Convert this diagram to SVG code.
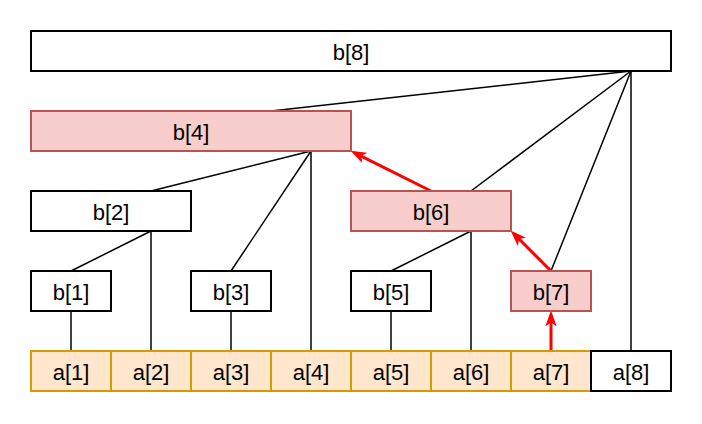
<svg xmlns="http://www.w3.org/2000/svg" width="702" height="424" viewBox="0 0 702 424">
<style>
.w{fill:#ffffff;stroke:#000000;stroke-width:2}
.r{fill:#f8cecc;stroke:#b85450;stroke-width:2}
.o{fill:#ffe6cc;stroke:#d79b00;stroke-width:2}
text{font-family:"Liberation Sans",Arial,sans-serif;font-size:22px;fill:#000000;text-anchor:middle}
.ln{stroke:#000000;stroke-width:1.5;fill:none}
.ar{stroke:#ff0000;stroke-width:3;fill:none;marker-end:url(#ah)}
</style>
<defs>
<marker id="ah" markerUnits="userSpaceOnUse" markerWidth="16" markerHeight="12" refX="10" refY="5" orient="auto" viewBox="0 0 14 10">
<path d="M0,0 L14,5 L0,10 L3.5,5 Z" fill="#ff0000"/>
</marker>
</defs>
<rect width="702" height="424" fill="#ffffff"/>
<g id="connectors">
<path class="ln" d="M631,71 L271,111"/>
<path class="ln" d="M631,71 L471,191"/>
<path class="ln" d="M631,71 L551,271"/>
<path class="ln" d="M631,71 L631,351"/>
<path class="ln" d="M311,151 L151,191"/>
<path class="ln" d="M311,151 L231,271"/>
<path class="ln" d="M311,151 L311,351"/>
<path class="ln" d="M151,231 L71,271"/>
<path class="ln" d="M151,231 L151,351"/>
<path class="ln" d="M471,231 L391,271"/>
<path class="ln" d="M471,231 L471,351"/>
<path class="ln" d="M71,311 L71,351"/>
<path class="ln" d="M231,311 L231,351"/>
<path class="ln" d="M391,311 L391,351"/>
<path class="ar" d="M551,351 L551,315"/>
<path class="ar" d="M551,271 L513.8,233.8"/>
<path class="ar" d="M431,191 L354.6,152.8"/>
</g>
<g id="b8"><rect class="w" x="31" y="31" width="640" height="40"/><text x="351" y="59.5">b[8]</text></g>
<g id="b4"><rect class="r" x="31" y="111" width="320" height="40"/><text x="191" y="139.5">b[4]</text></g>
<g id="b2"><rect class="w" x="31" y="191" width="160" height="40"/><text x="111" y="219.5">b[2]</text></g>
<g id="b6"><rect class="r" x="351" y="191" width="160" height="40"/><text x="431" y="219.5">b[6]</text></g>
<g id="b1"><rect class="w" x="31" y="271" width="80" height="40"/><text x="71" y="299.5">b[1]</text></g>
<g id="b3"><rect class="w" x="191" y="271" width="80" height="40"/><text x="231" y="299.5">b[3]</text></g>
<g id="b5"><rect class="w" x="351" y="271" width="80" height="40"/><text x="391" y="299.5">b[5]</text></g>
<g id="b7"><rect class="r" x="511" y="271" width="80" height="40"/><text x="551" y="299.5">b[7]</text></g>
<g id="a1"><rect class="o" x="31" y="351" width="80" height="40"/><text x="71" y="379.5">a[1]</text></g>
<g id="a2"><rect class="o" x="111" y="351" width="80" height="40"/><text x="151" y="379.5">a[2]</text></g>
<g id="a3"><rect class="o" x="191" y="351" width="80" height="40"/><text x="231" y="379.5">a[3]</text></g>
<g id="a4"><rect class="o" x="271" y="351" width="80" height="40"/><text x="311" y="379.5">a[4]</text></g>
<g id="a5"><rect class="o" x="351" y="351" width="80" height="40"/><text x="391" y="379.5">a[5]</text></g>
<g id="a6"><rect class="o" x="431" y="351" width="80" height="40"/><text x="471" y="379.5">a[6]</text></g>
<g id="a7"><rect class="o" x="511" y="351" width="80" height="40"/><text x="551" y="379.5">a[7]</text></g>
<g id="a8"><rect class="w" x="591" y="351" width="80" height="40"/><text x="631" y="379.5">a[8]</text></g>
</svg>
